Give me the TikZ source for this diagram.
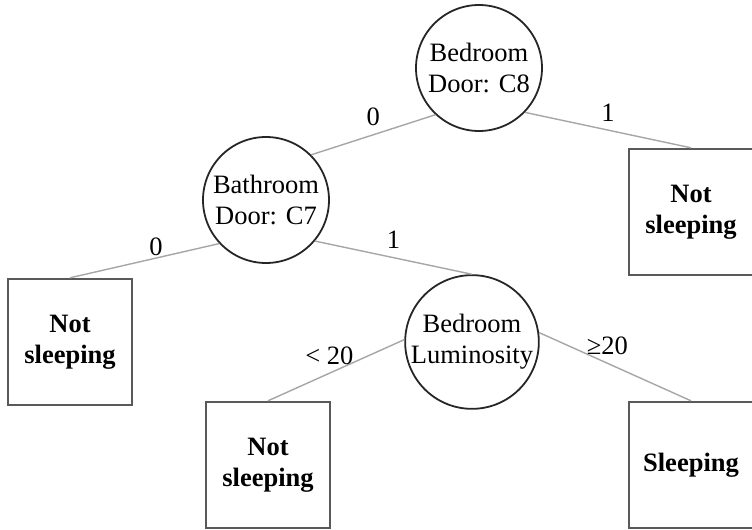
\documentclass[tikz,border=0pt]{standalone}
\usepackage{fontspec}
\setmainfont{Liberation Serif}[BoldFont={Liberation Serif Bold}]
\usepackage{tikz}

\begin{document}
\fontsize{13.25}{15.5}\selectfont
\begin{tikzpicture}[x=0.5pt,y=-0.5pt]
	\tikzstyle{test} = [circle, draw=black!85, line width=0.9pt, minimum size=63pt, inner sep=0pt, align=center]
	\tikzstyle{leaf} = [rectangle, draw=black!65, line width=1.2pt, minimum width=62pt, minimum height=63pt, inner sep=0pt, align=center, font=\bfseries]
	\tikzstyle{branch} = [draw=black!35, line width=0.7pt]
	\useasboundingbox (0,0) rectangle (752,530);
	\node [test](door8) at (479,68) {Bedroom\\Door: C8};
	\node [leaf](awake1) at (691,212) {Not\\sleeping};
	\node [test](door7) at (266,200) {Bathroom\\Door: C7};
	\node [leaf](awake2) at (70,342) {Not\\sleeping};
	\node [test](light) at (472,342) {Bedroom\\Luminosity};
	\node [leaf](awake3) at (268,465) {Not\\sleeping};
	\node [leaf](asleep) at (691,465) {Sleeping};
	\draw [branch] (door8.227) -- (door7.45) node[midway,above,inner sep=4pt]{0};
	\draw [branch] (door8.316) -- (awake1.north) node[midway,above,inner sep=4pt]{1};
	\draw [branch] (door7.223) -- (awake2.north) node[midway,above right,inner sep=2pt]{0};
	\draw [branch] (door7.-40) -- (light.north) node[midway,above,inner sep=4pt]{1};
	\draw [branch] (light.178) -- (awake3.north) node[pos=0.55,above,inner sep=4pt]{< 20};
	\draw [branch] (light.8) -- (asleep.north) node[pos=0.45,above,inner sep=4pt]{≥20};
\end{tikzpicture}
\end{document}
